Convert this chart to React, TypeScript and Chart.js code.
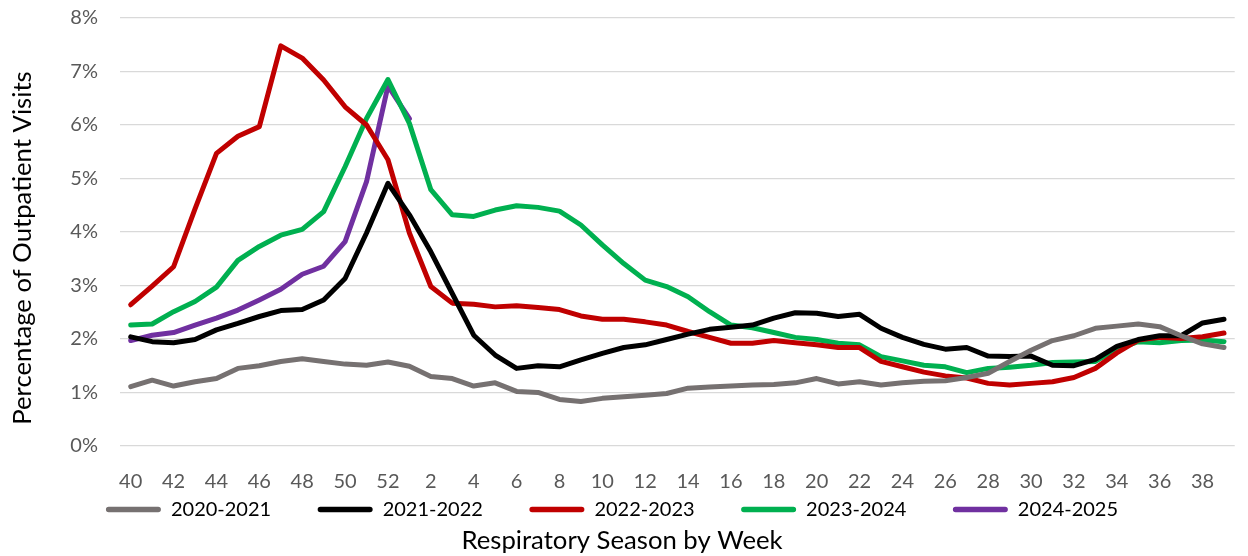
import React, { useEffect, useRef } from 'react';
import { Chart, registerables } from 'chart.js';

Chart.register(...registerables);

const weekLabels = [
  '40', '41', '42', '43', '44', '45', '46', '47', '48', '49', '50', '51', '52',
  '1', '2', '3', '4', '5', '6', '7', '8', '9', '10', '11', '12', '13', '14', '15',
  '16', '17', '18', '19', '20', '21', '22', '23', '24', '25', '26', '27', '28', '29',
  '30', '31', '32', '33', '34', '35', '36', '37', '38', '39',
];

const seasonNames = ['2020-2021', '2021-2022', '2022-2023', '2023-2024', '2024-2025'];
const seasonColors = ['#767171', '#000000', '#c00000', '#00b050', '#7030a0'];

const season2020 = [
  1.11, 1.23, 1.12, 1.20, 1.26, 1.45, 1.50, 1.58, 1.63, 1.58, 1.53, 1.51, 1.57,
  1.49, 1.30, 1.26, 1.12, 1.18, 1.02, 1.00, 0.87, 0.83, 0.89, 0.92, 0.95, 0.98,
  1.08, 1.10, 1.12, 1.14, 1.15, 1.18, 1.26, 1.16, 1.20, 1.14, 1.18, 1.21, 1.22,
  1.28, 1.36, 1.58, 1.79, 1.97, 2.06, 2.20, 2.24, 2.28, 2.23, 2.06, 1.91, 1.84,
];
const season2021 = [
  2.04, 1.95, 1.93, 1.99, 2.17, 2.29, 2.42, 2.53, 2.55, 2.73, 3.13, 3.98, 4.91,
  4.32, 3.63, 2.85, 2.07, 1.70, 1.45, 1.50, 1.48, 1.61, 1.73, 1.84, 1.89, 1.99,
  2.09, 2.18, 2.22, 2.26, 2.39, 2.49, 2.48, 2.42, 2.46, 2.20, 2.03, 1.90, 1.81,
  1.84, 1.68, 1.67, 1.68, 1.51, 1.50, 1.62, 1.86, 1.99, 2.06, 2.06, 2.30, 2.37,
];
const season2022 = [
  2.64, 2.99, 3.35, 4.43, 5.47, 5.79, 5.97, 7.48, 7.25, 6.84, 6.34, 6.00, 5.35,
  3.98, 2.98, 2.67, 2.65, 2.60, 2.62, 2.59, 2.55, 2.43, 2.37, 2.37, 2.32, 2.26,
  2.14, 2.03, 1.92, 1.92, 1.97, 1.93, 1.89, 1.84, 1.84, 1.58, 1.48, 1.38, 1.31,
  1.27, 1.17, 1.14, 1.17, 1.20, 1.28, 1.45, 1.74, 1.98, 2.03, 2.01, 2.04, 2.11,
];
const season2023 = [
  2.26, 2.28, 2.51, 2.70, 2.97, 3.47, 3.73, 3.94, 4.05, 4.38, 5.22, 6.12, 6.85,
  6.03, 4.79, 4.32, 4.29, 4.41, 4.49, 4.46, 4.39, 4.13, 3.76, 3.41, 3.10, 2.98,
  2.79, 2.51, 2.26, 2.21, 2.12, 2.03, 1.99, 1.92, 1.89, 1.67, 1.59, 1.51, 1.48,
  1.37, 1.45, 1.47, 1.51, 1.56, 1.57, 1.58, 1.81, 1.95, 1.93, 1.97, 1.98, 1.95,
];
const season2024 = [
  1.97, 2.07, 2.12, 2.26, 2.39, 2.54, 2.73, 2.93, 3.21, 3.36, 3.82, 4.94, 6.73,
  6.12,
];

const seriesValues = [season2020, season2021, season2022, season2023, season2024];

const yTickSuffix = '%';
const yAxisTitle = 'Percentage of Outpatient Visits';
const xAxisTitle = 'Respiratory Season by Week';

const FONT = 'Lato, "Open Sans", sans-serif';

// fine placement of the axis titles to match the reference
const titleNudge = {
  id: 'titleNudge',
  afterLayout(chart: any) {
    const s = chart.scales.y;
    if (s) {
      s.top += 16;
      s.bottom += 16;
    }
    const t = chart.titleBlock;
    if (t) {
      t.left += 10;
      t.right += 10;
    }
  },
};

export default function App() {
  const canvasRef = useRef<HTMLCanvasElement | null>(null);

  useEffect(() => {
    document.body.style.margin = '0';
    const canvas = canvasRef.current;
    if (!canvas) return;

    const chart = new Chart(canvas, {
      type: 'line',
      data: {
        labels: weekLabels,
        datasets: seriesValues.map((vals, i) => ({
          label: seasonNames[i],
          data: vals,
          borderColor: seasonColors[i],
          backgroundColor: seasonColors[i],
          borderWidth: 5,
          pointRadius: 0,
          pointHoverRadius: 0,
          tension: 0,
          borderCapStyle: 'round' as const,
          borderJoinStyle: 'round' as const,
          fill: false,
        })),
      },
      options: {
        responsive: false,
        animation: false,
        events: [],
        layout: { padding: { top: 18, bottom: 0, left: -29, right: -5 } },
        scales: {
          x: {
            offset: true,
            grid: { display: false, drawTicks: false },
            border: { display: false },
            ticks: {
              autoSkip: false,
              maxRotation: 0,
              padding: 24,
              color: '#595959',
              font: { family: FONT, size: 20 },
              callback: (_v: any, i: number) => (i % 2 === 0 ? weekLabels[i] : ''),
            },
            afterFit: (s: any) => {
              s.height = 7;
              s._computeLabelArea = () => undefined;
            },
          },
          y: {
            min: 0,
            max: 8,
            ticks: {
              stepSize: 1,
              padding: 22,
              color: '#595959',
              font: { family: FONT, size: 20 },
              callback: (v: any) => v + yTickSuffix,
            },
            grid: { color: '#d9d9d9', lineWidth: 1.2, drawTicks: false },
            border: { display: false },
            title: {
              display: true,
              text: yAxisTitle,
              color: '#000000',
              font: { family: FONT, size: 25.7 },
              padding: { top: 36.1, bottom: 0 },
            },
            afterFit: (s: any) => {
              s.width = 149;
              s.paddingTop = 0;
              s.paddingBottom = 0;
            },
          },
        },
        plugins: {
          legend: {
            position: 'bottom',
            maxHeight: 72.2,
            labels: {
              boxWidth: 55,
              boxHeight: 5.5,
              padding: 46.5,
              color: '#000000',
              font: { family: FONT, size: 20 },
              useBorderRadius: true,
              borderRadius: 2.75,
              generateLabels: (ch: any) =>
                Chart.defaults.plugins.legend.labels
                  .generateLabels(ch)
                  .map((item: any) => ({
                    ...item,
                    fillStyle: item.strokeStyle,
                    lineWidth: 0,
                  })),
            },
          },
          title: {
            display: true,
            position: 'bottom',
            text: xAxisTitle,
            color: '#000000',
            font: { family: FONT, size: 25.7, weight: 'normal' },
            padding: { top: 0, bottom: 0 },
          },
          tooltip: { enabled: false },
        },
      } as any,
      plugins: [titleNudge],
    });

    return () => chart.destroy();
  }, []);

  return (
    <div style={{ width: 1248, height: 556 }}>
      <canvas ref={canvasRef} width={1248} height={556} style={{ display: 'block' }} />
    </div>
  );
}
